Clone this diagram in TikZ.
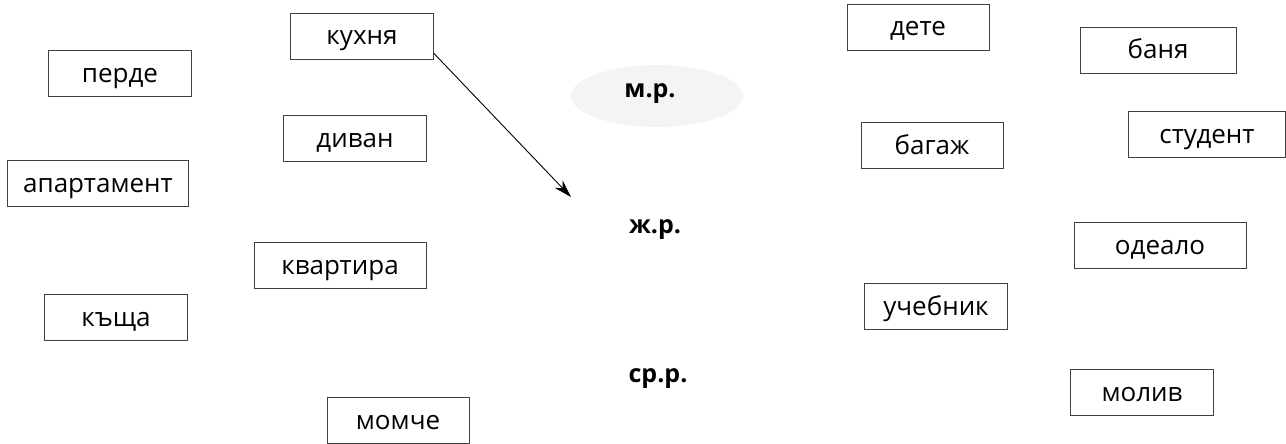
\documentclass[tikz,border=0pt]{standalone}
\usepackage{fontspec}
\setmainfont{Open Sans}
\usetikzlibrary{arrows.meta}
\begin{document}
\begin{tikzpicture}[x=1pt,y=-1pt,
  word/.style={draw=black!75, line width=0.6pt, inner sep=0pt, minimum height=46pt, text height=18pt, text depth=0pt, font=\fontsize{26}{30}\selectfont},
  gen/.style={font=\fontsize{25}{30}\selectfont\bfseries, inner sep=0pt, anchor=base},
]
\useasboundingbox (0,0) rectangle (1286,444);
% left column
\node[word, minimum width=143pt] (perde) at (120,73) {перде};
\node[word, minimum width=181pt] (apart) at (98,183) {апартамент};
\node[word, minimum width=143pt] (kashta) at (116,317) {къща};
\node[word, minimum width=143pt] (kuhnya) at (362,36) {кухня};
\node[word, minimum width=143pt] (divan) at (355,138) {диван};
\node[word, minimum width=172pt] (kvart) at (340,265) {квартира};
\node[word, minimum width=142pt] (momche) at (398,420) {момче};
% genders
\fill[gray!9] (657,96) ellipse [x radius=86pt, y radius=31pt];
\node[gen] (mr) at (650,97) {м.р.};
\node[gen] (zhr) at (655,233) {ж.р.};
\node[gen] (srr) at (658,382) {ср.р.};
% right columns
\node[word, minimum width=142pt] (dete) at (918,27) {дете};
\node[word, minimum width=142pt] (bagazh) at (932,145) {багаж};
\node[word, minimum width=143pt] (uchebnik) at (936,306) {учебник};
\node[word, minimum width=156pt] (banya) at (1158,50) {баня};
\node[word, minimum width=157pt] (student) at (1207,134) {студент};
\node[word, minimum width=172pt] (odealo) at (1160,245) {одеало};
\node[word, minimum width=143pt] (moliv) at (1142,392) {молив};
% arrow
\coordinate (tip) at (571,197);
\draw[line width=0.9pt, -{Stealth[length=18pt, width=11pt, inset=6pt]}] ([yshift=6pt]kuhnya.south east) -- (tip);
\end{tikzpicture}
\end{document}
